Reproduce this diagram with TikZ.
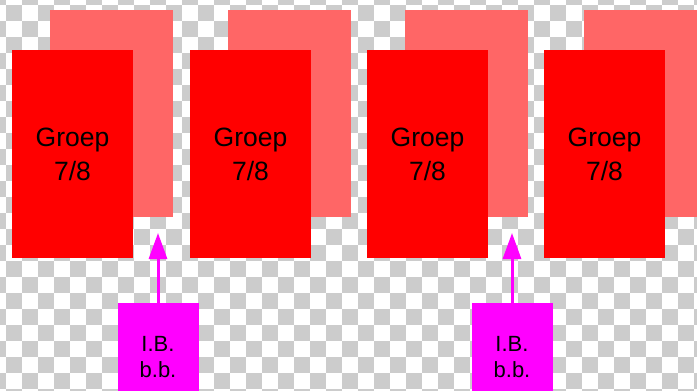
\documentclass[tikz,border=0pt]{standalone}
\usepackage{fontspec}
\setmainfont{Liberation Sans}
\usetikzlibrary{arrows.meta}

\definecolor{groeprood}{HTML}{FF0000}
\definecolor{achterrood}{HTML}{FF6666}
\definecolor{ibpaars}{HTML}{FF00FF}
\definecolor{ruitgrijs}{HTML}{CCCCCC}

\begin{document}
\begin{tikzpicture}[
        x=1pt, y=-1pt,
        achter/.style={fill=achterrood, draw=none, minimum width=123pt, minimum height=207pt},
        groep/.style={fill=groeprood, draw=none, minimum width=121pt, minimum height=208pt,
                      align=center, font=\fontsize{26.5}{34}\selectfont},
        ibbox/.style={fill=ibpaars, draw=none, minimum width=81pt, minimum height=109pt,
                      align=center, font=\fontsize{22}{26}\selectfont},
        pijl/.style={ibpaars, line width=3pt, -{Triangle[width=18pt,length=26pt]}},
    ]
    \clip (0,0) rectangle (697,391);

    % transparency checkerboard
    \fill[white] (0,0) rectangle (697,391);
    \foreach \i in {-1,...,43} {
        \foreach \j in {-1,...,24} {
            \pgfmathtruncatemacro\k{mod(\i+\j+10,2)}
            \ifnum\k=0
                \fill[ruitgrijs] (6+16*\i,5+16*\j) rectangle ++(16,16);
            \fi
        }
    }

    % back sheets
    \node[achter] (a1) at (111.5,113.5) {};
    \node[achter] (a2) at (289.5,113.5) {};
    \node[achter] (a3) at (466.5,113.5) {};
    \node[achter] (a4) at (645.5,113.5) {};

    % front sheets
    \node[groep] (g1) at (72.5,154) {Groep\\7/8};
    \node[groep] (g2) at (250.5,154) {Groep\\7/8};
    \node[groep] (g3) at (427.5,154) {Groep\\7/8};
    \node[groep] (g4) at (604.5,154) {Groep\\7/8};

    % I.B. boxes
    \node[ibbox] (ib1) at (158,357.5) {I.B.\\b.b.};
    \node[ibbox] (ib2) at (512,357.5) {I.B.\\b.b.};

    \coordinate (t1) at (158,233);
    \coordinate (t2) at (512,233);
    \draw[pijl] (ib1.north) -- (t1);
    \draw[pijl] (ib2.north) -- (t2);
\end{tikzpicture}
\end{document}
